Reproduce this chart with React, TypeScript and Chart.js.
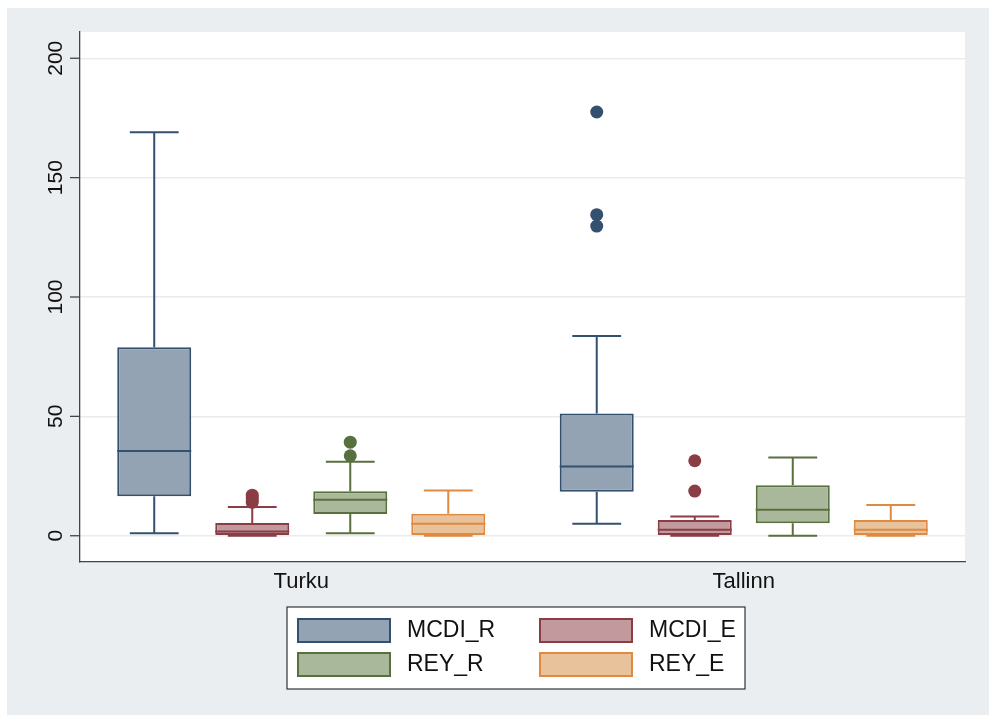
import React, { useEffect, useRef } from "react";
import { Chart, registerables } from "chart.js";

Chart.register(...registerables);

// ---- data ----
const categories = ["Turku", "Tallinn"];
const seriesNames = ["MCDI_R", "MCDI_E", "REY_R", "REY_E"];
const yTicks = [0, 50, 100, 150, 200];

const mcdiRLow = [1, 5];
const mcdiRQ1 = [16.5, 18.4];
const mcdiRMed = [35.5, 29];
const mcdiRQ3 = [79, 51.2];
const mcdiRHigh = [169, 83.7];
const mcdiROut = [[], [177.5, 134.5, 129.7]];

const mcdiELow = [0, 0];
const mcdiEQ1 = [0, 0];
const mcdiEMed = [1.8, 2.5];
const mcdiEQ3 = [5.3, 6.6];
const mcdiEHigh = [12, 8.1];
const mcdiEOut = [[14, 15, 16, 17], [18.7, 31.4]];

const reyRLow = [1, 0];
const reyRQ1 = [9.1, 5.2];
const reyRMed = [15.1, 10.9];
const reyRQ3 = [18.6, 21.1];
const reyRHigh = [31, 32.8];
const reyROut = [[33.5, 39.2], []];

const reyELow = [0, 0];
const reyEQ1 = [0, 0];
const reyEMed = [5, 2.5];
const reyEQ3 = [9.2, 6.6];
const reyEHigh = [19, 12.9];
const reyEOut = [[], []];

const fills = ["#94a3b3", "#c29a9e", "#a9b89b", "#e7c29b"];
const borders = ["#34506f", "#8a3d45", "#58703e", "#df8a40"];

const FONT = '"Liberation Sans", Arial, Helvetica, sans-serif';

const stats = [
  { low: mcdiRLow, q1: mcdiRQ1, med: mcdiRMed, q3: mcdiRQ3, high: mcdiRHigh, out: mcdiROut },
  { low: mcdiELow, q1: mcdiEQ1, med: mcdiEMed, q3: mcdiEQ3, high: mcdiEHigh, out: mcdiEOut },
  { low: reyRLow, q1: reyRQ1, med: reyRMed, q3: reyRQ3, high: reyRHigh, out: reyROut },
  { low: reyELow, q1: reyEQ1, med: reyEMed, q3: reyEQ3, high: reyEHigh, out: reyEOut },
];

const bgPlugin = {
  id: "bg",
  beforeDraw(chart: any) {
    const { ctx, chartArea } = chart;
    ctx.save();
    ctx.fillStyle = "#ffffff";
    ctx.fillRect(0, 0, chart.width, chart.height);
    ctx.fillStyle = "#eaeef1";
    ctx.fillRect(7, 8, chart.width - 7, chart.height - 8);
    ctx.fillStyle = "#ffffff";
    ctx.fillRect(chartArea.left, chartArea.top, chartArea.right - chartArea.left, chartArea.bottom - chartArea.top);
    ctx.restore();
  },
};

const whiskerPlugin = {
  id: "whiskers",
  beforeDatasetsDraw(chart: any) {
    const { ctx } = chart;
    const y = chart.scales.y;
    ctx.save();
    stats.forEach((s, di) => {
      const meta = chart.getDatasetMeta(di);
      meta.data.forEach((el: any, i: number) => {
        const x = el.x;
        const capW = el.width * 0.66;
        ctx.strokeStyle = borders[di];
        ctx.lineWidth = 2;
        const yHigh = y.getPixelForValue(s.high[i]);
        const yQ3 = y.getPixelForValue(s.q3[i]);
        const yLow = y.getPixelForValue(s.low[i]);
        const yQ1 = y.getPixelForValue(s.q1[i]);
        ctx.beginPath();
        ctx.moveTo(x, yQ3);
        ctx.lineTo(x, yHigh);
        ctx.moveTo(x - capW / 2, yHigh);
        ctx.lineTo(x + capW / 2, yHigh);
        ctx.moveTo(x, yQ1);
        ctx.lineTo(x, yLow);
        ctx.moveTo(x - capW / 2, yLow);
        ctx.lineTo(x + capW / 2, yLow);
        ctx.stroke();
      });
    });
    ctx.restore();
  },
  afterDatasetsDraw(chart: any) {
    const { ctx } = chart;
    const y = chart.scales.y;
    ctx.save();
    stats.forEach((s, di) => {
      const meta = chart.getDatasetMeta(di);
      meta.data.forEach((el: any, i: number) => {
        const x = el.x;
        const w = el.width;
        ctx.strokeStyle = borders[di];
        ctx.lineWidth = 2;
        const yMed = y.getPixelForValue(s.med[i]);
        ctx.beginPath();
        ctx.moveTo(x - w / 2, yMed);
        ctx.lineTo(x + w / 2, yMed);
        ctx.stroke();
        ctx.fillStyle = borders[di];
        s.out[i].forEach((v: number) => {
          ctx.beginPath();
          ctx.arc(x, y.getPixelForValue(v), 6.5, 0, Math.PI * 2);
          ctx.fill();
        });
      });
    });
    ctx.restore();
  },
};

const axisTextPlugin = {
  id: "axisText",
  afterDraw(chart: any) {
    const { ctx, chartArea } = chart;
    const y = chart.scales.y;
    const x = chart.scales.x;
    ctx.save();
    // y tick marks & labels
    ctx.strokeStyle = "#444";
    ctx.lineWidth = 1.3;
    ctx.fillStyle = "#111";
    ctx.font = `21px ${FONT}`;
    yTicks.forEach((v) => {
      const py = y.getPixelForValue(v);
      ctx.beginPath();
      ctx.moveTo(chartArea.left - 10, py);
      ctx.lineTo(chartArea.left, py);
      ctx.stroke();
      ctx.save();
      ctx.translate(chartArea.left - 18, py);
      ctx.rotate(-Math.PI / 2);
      ctx.textAlign = "center";
      ctx.textBaseline = "alphabetic";
      ctx.fillText(String(v), 0, 0);
      ctx.restore();
    });
    // x category labels
    ctx.font = `22px ${FONT}`;
    ctx.textAlign = "center";
    ctx.textBaseline = "middle";
    categories.forEach((c, i) => {
      ctx.fillText(c, x.getPixelForValue(i), chartArea.bottom + 20);
    });
    // legend
    const lx = 287, ly = 607, lw = 458, lh = 82;
    ctx.fillStyle = "#ffffff";
    ctx.fillRect(lx, ly, lw, lh);
    ctx.strokeStyle = "#333";
    ctx.lineWidth = 1.2;
    ctx.strokeRect(lx, ly, lw, lh);
    ctx.font = `23px ${FONT}`;
    ctx.textAlign = "left";
    ctx.textBaseline = "middle";
    seriesNames.forEach((name, k) => {
      const col = k % 2;
      const row = Math.floor(k / 2);
      const sx = lx + 10 + col * 242;
      const sy = ly + 11 + row * 34;
      ctx.fillStyle = fills[k];
      ctx.fillRect(sx, sy, 94, 25);
      ctx.strokeStyle = borders[k];
      ctx.lineWidth = 2;
      ctx.strokeRect(sx + 1, sy + 1, 92, 23);
      ctx.fillStyle = "#111";
      ctx.fillText(name, sx + 110, sy + 13);
    });
    ctx.restore();
  },
};

export default function App() {
  const ref = useRef<HTMLCanvasElement | null>(null);
  useEffect(() => {
    if (!ref.current) return;
    const chart = new Chart(ref.current, {
      type: "bar",
      data: {
        labels: categories,
        datasets: seriesNames.map((name, k) => ({
          label: name,
          data: stats[k].q1.map((v, i) => [v, stats[k].q3[i]]),
          backgroundColor: fills[k],
          borderColor: borders[k],
          borderWidth: 2,
          borderSkipped: false,
          categoryPercentage: 0.886,
          barPercentage: 0.755,
        })),
      } as any,
      options: {
        animation: false,
        responsive: false,
        devicePixelRatio: 1,
        layout: { padding: { left: 80, right: 24, top: 32, bottom: 153 } },
        plugins: { legend: { display: false }, tooltip: { enabled: false } },
        scales: {
          x: {
            afterFit: (s: any) => {
              s.height = 0;
            },
            ticks: { display: false },
            grid: { display: false, drawTicks: false },
            border: { display: true, color: "#444", width: 1.3 },
          },
          y: {
            min: -11,
            max: 211,
            afterFit: (s: any) => {
              s.width = 0;
            },
            afterBuildTicks: (s: any) => {
              s.ticks = yTicks.map((v) => ({ value: v }));
            },
            ticks: { display: false },
            grid: { color: "#e9ecee", lineWidth: 1.5, drawTicks: false },
            border: { display: true, color: "#444", width: 1.3 },
          },
        },
      } as any,
      plugins: [bgPlugin, whiskerPlugin, axisTextPlugin],
    });
    return () => chart.destroy();
  }, []);
  return (
    <div style={{ position: "fixed", left: 0, top: 0, width: 989, height: 715, background: "#fff" }}>
      <canvas ref={ref} width={989} height={715} style={{ display: "block", width: 989, height: 715 }} />
    </div>
  );
}
